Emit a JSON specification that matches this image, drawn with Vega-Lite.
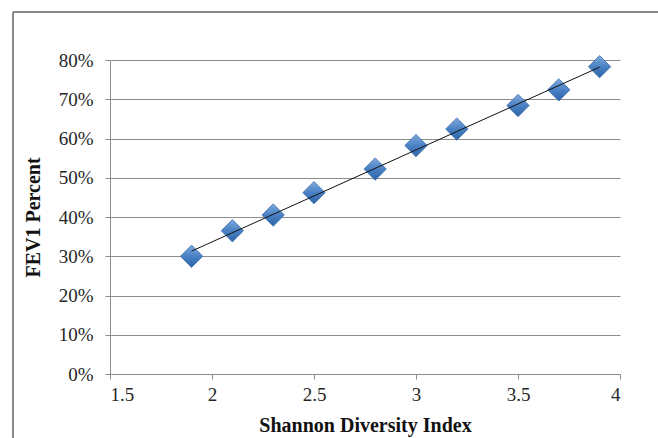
{
  "$schema": "https://vega.github.io/schema/vega-lite/v6.json",
  "width": 510,
  "height": 314,
  "autosize": {"type": "none"},
  "padding": {"left": 110, "top": 60, "right": 38, "bottom": 64},
  "background": "white",
  "config": {
    "view": {"stroke": null},
    "font": "Liberation Serif",
    "axis": {
      "labelFont": "Liberation Serif",
      "labelFontSize": 19,
      "labelColor": "#262626",
      "labelOverlap": false,
      "titleFont": "Liberation Serif",
      "titleFontSize": 20,
      "titleFontWeight": "bold",
      "titleColor": "#111111",
      "domainColor": "#8c8c8c",
      "tickColor": "#8c8c8c",
      "tickSize": 5,
      "gridColor": "#8c8c8c",
      "gridWidth": 1
    }
  },
  "data": {
    "values": [
      {"x": 1.9, "y": 0.30},
      {"x": 2.1, "y": 0.365},
      {"x": 2.3, "y": 0.405},
      {"x": 2.5, "y": 0.462},
      {"x": 2.8, "y": 0.522},
      {"x": 3.0, "y": 0.582},
      {"x": 3.2, "y": 0.624},
      {"x": 3.5, "y": 0.684},
      {"x": 3.7, "y": 0.724},
      {"x": 3.9, "y": 0.783}
    ]
  },
  "encoding": {
    "x": {
      "field": "x", "type": "quantitative",
      "scale": {"domain": [1.5, 4], "nice": false, "zero": false},
      "axis": {
        "values": [1.5, 2, 2.5, 3, 3.5, 4],
        "format": "~g",
        "grid": false,
        "labelPadding": 6,
        "title": "Shannon Diversity Index",
        "titleX": 255,
        "titleY": 51,
        "titleBaseline": "middle",
        "titleAlign": "center"
      }
    },
    "y": {
      "field": "y", "type": "quantitative",
      "scale": {"domain": [0, 0.8], "nice": false},
      "axis": {
        "values": [0, 0.1, 0.2, 0.3, 0.4, 0.5, 0.6, 0.7, 0.8],
        "format": ".0%",
        "grid": true,
        "labelPadding": 12,
        "title": "FEV1 Percent",
        "titleAngle": 270,
        "titleX": -77,
        "titleY": 157,
        "titleBaseline": "middle",
        "titleAlign": "center"
      }
    }
  },
  "layer": [
    {
      "mark": {"type": "point", "shape": "diamond", "size": 500, "filled": true, "opacity": 1,
        "fill": {"gradient": "linear", "x1": 0, "y1": 0, "x2": 0, "y2": 1,
          "stops": [{"offset": 0, "color": "#7fa9dc"}, {"offset": 0.5, "color": "#4a81c4"}, {"offset": 1, "color": "#2c64a6"}]},
        "stroke": "#3c6fae", "strokeWidth": 0.8}
    },
    {
      "transform": [{"regression": "y", "on": "x"}],
      "mark": {"type": "line", "color": "#111111", "strokeWidth": 1}
    },
    {
      "mark": {"type": "rect", "fill": null, "stroke": "#8a8a8a", "strokeWidth": 1, "clip": false},
      "encoding": {
        "x": {"datum": 1.0245, "type": "quantitative",
          "axis": {
            "values": [1.5, 2, 2.5, 3, 3.5, 4],
            "format": "~g",
            "grid": false,
            "labelPadding": 6,
            "title": "Shannon Diversity Index",
            "titleX": 255,
            "titleY": 51,
            "titleBaseline": "middle",
            "titleAlign": "center"
          }},
        "x2": {"datum": 4.6},
        "y": {"datum": 0.922, "type": "quantitative",
          "axis": {
            "values": [0, 0.1, 0.2, 0.3, 0.4, 0.5, 0.6, 0.7, 0.8],
            "format": ".0%",
            "grid": true,
            "labelPadding": 12,
            "title": "FEV1 Percent",
            "titleAngle": 270,
            "titleX": -77,
            "titleY": 157,
            "titleBaseline": "middle",
            "titleAlign": "center"
          }},
        "y2": {"datum": -0.3}
      }
    }
  ]
}
